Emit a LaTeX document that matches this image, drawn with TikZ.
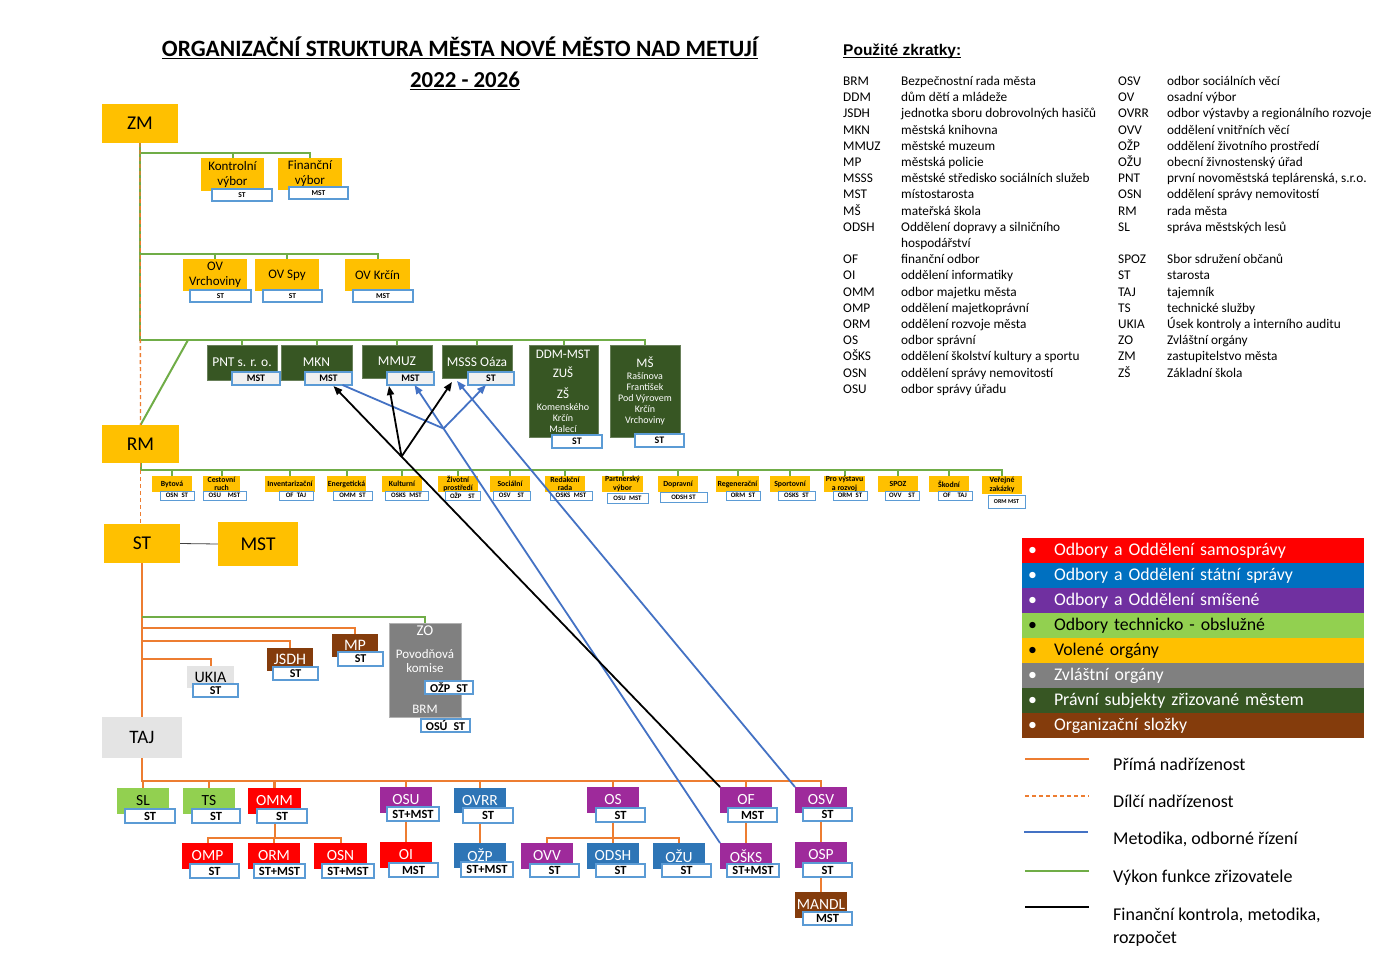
\documentclass[tikz,border=0pt]{standalone}
\usepackage{fontspec}
\setmainfont{Carlito}
\newfontfamily\arialfont{Liberation Sans}
\usetikzlibrary{arrows.meta,calc}
\pgfdeclarelayer{bg}
\pgfdeclarelayer{paper}
\pgfsetlayers{paper,bg,main}

\definecolor{cY}{HTML}{FFC000}
\definecolor{cG}{HTML}{70AD47}
\definecolor{cO}{HTML}{ED7D31}
\definecolor{cBl}{HTML}{4472C4}
\definecolor{cLab}{HTML}{5B9BD5}
\definecolor{cDG}{HTML}{375623}
\definecolor{cRed}{HTML}{FF0000}
\definecolor{cPur}{HTML}{9E2A9B}
\definecolor{cLegPur}{HTML}{7030A0}
\definecolor{cBoxBlue}{HTML}{2E75B6}
\definecolor{cLegBlue}{HTML}{0070C0}
\definecolor{cLGreen}{HTML}{92D050}
\definecolor{cBrown}{HTML}{843C0C}
\definecolor{cGray}{HTML}{808080}
\definecolor{cLGray}{HTML}{E4E4E4}

\newcommand\fsz[1]{\fontsize{#1}{#1}\selectfont}
\newcommand\fszb[2]{\fontsize{#1}{#2}\selectfont}
\newcommand\bx[7]{\node[#6,minimum width={(#4-#2)*1pt},minimum height={(#5-#3)*1pt}] (#1) at ({(#2+#4)/2},{(#3+#5)/2}) {#7};}

\tikzset{
  base/.style={rectangle,inner sep=0pt,outer sep=0pt,align=center},
  ybox/.style={base,fill=cY,font=\fszb{13}{15}},
  bigy/.style={base,fill=cY,font=\fsz{19.5}},
  cbox/.style={base,fill=cY,font=\fszb{7.8}{8.5}\bfseries},
  gbox/.style={base,fill=cDG,draw=cDG!75!white,line width=0.6pt,text=white,font=\fsz{13.5}},
  lab/.style={base,fill=white,draw=cLab,line width=1.2pt,text=black},
  labA/.style={lab,font=\fsz{7.5}\bfseries},
  labB/.style={lab,fill=gray!12,font=\fsz{10}\bfseries},
  labBw/.style={lab,font=\fsz{10}\bfseries},
  labC/.style={lab,font=\fsz{12}\bfseries},
  blab/.style={lab,font=\fsz{12.5}\bfseries},
  clab/.style={lab,line width=1pt,font=\fsz{6.8}\bfseries},
  bbox/.style={base,font=\fsz{15.5},text=white},
  redbox/.style={bbox,fill=cRed},
  purbox/.style={bbox,fill=cPur},
  bluebox/.style={bbox,fill=cBoxBlue},
  brbox/.style={bbox,fill=cBrown},
  lgbox/.style={bbox,fill=cLGreen,text=black},
  oline/.style={draw=cO,line width=2.3pt},
  gline/.style={draw=cG,line width=2pt},
  dline/.style={draw=cO,line width=1.3pt,dash pattern=on 4pt off 3pt},
  bline/.style={draw=cBl,line width=1.8pt},
  kline/.style={draw=black,line width=1.8pt},
  arr/.style={-{Triangle[length=9pt,width=7pt]}},
  legbar/.style={base,anchor=west,minimum width=342pt,minimum height=25pt,text width=330pt,align=left,inner xsep=6pt,font=\fsz{17.8}},
  legtxt/.style={anchor=base west,inner sep=0pt,font=\fszb{18}{23},align=left},
}

\begin{document}
\begin{tikzpicture}[x=1pt,y=-1pt]
\useasboundingbox (0,0) rectangle (1400,969);
\begin{pgfonlayer}{paper}
\fill[white] (0,0) rectangle (1400,969);
\end{pgfonlayer}

% ---------- title ----------
\node[anchor=base,inner sep=0pt,font=\fsz{23.4}\bfseries] (title) at (460,56) {ORGANIZAČNÍ STRUKTURA MĚSTA NOVÉ MĚSTO NAD METUJÍ};
\draw[line width=1.4pt] ([yshift=-2.5pt]title.base west) -- ([yshift=-2.5pt]title.base east);
\node[anchor=base,inner sep=0pt,font=\fsz{22.8}\bfseries] (years) at (465,87) {2022 - 2026};
\draw[line width=1.4pt] ([yshift=-2.5pt]years.base west) -- ([yshift=-2.5pt]years.base east);

% ---------- abbreviations ----------
\node[anchor=base west,inner sep=0pt,font=\arialfont\fsz{15.5}\bfseries] (zkr) at (843,55) {Použité zkratky:};
\draw[line width=1.2pt] ([yshift=-2.5pt]zkr.base west) -- ([yshift=-2.5pt]zkr.base east);
\node[anchor=north west,inner sep=0pt,font=\fszb{13.3}{16.2}] (abbr1) at (843,74) {%
\begin{tabular}{@{}p{58pt}@{}l@{}}
BRM & Bezpečnostní rada města\\
DDM & dům dětí a mládeže\\
JSDH & jednotka sboru dobrovolných hasičů\\
MKN & městská knihovna\\
MMUZ & městské muzeum\\
MP & městská policie\\
MSSS & městské středisko sociálních služeb\\
MST & místostarosta\\
MŠ & mateřská škola\\
ODSH & Oddělení dopravy a silničního\\
 & hospodářství\\
OF & finanční odbor\\
OI & oddělení informatiky\\
OMM & odbor majetku města\\
OMP & oddělení majetkoprávní\\
ORM & oddělení rozvoje města\\
OS & odbor správní\\
OŠKS & oddělení školství kultury a sportu\\
OSN & oddělení správy nemovitostí\\
OSU & odbor správy úřadu
\end{tabular}};
\node[anchor=north west,inner sep=0pt,font=\fszb{13.3}{16.2}] (abbr2) at (1118,74) {%
\begin{tabular}{@{}p{49pt}@{}l@{}}
OSV & odbor sociálních věcí\\
OV & osadní výbor\\
OVRR & odbor výstavby a regionálního rozvoje\\
OVV & oddělení vnitřních věcí\\
OŽP & oddělení životního prostředí\\
OŽU & obecní živnostenský úřad\\
PNT & první novoměstská teplárenská, s.r.o.\\
OSN & oddělení správy nemovitostí\\
RM & rada města\\
SL & správa městských lesů\\
 & \\
SPOZ & Sbor sdružení občanů\\
ST & starosta\\
TAJ & tajemník\\
TS & technické služby\\
UKIA & Úsek kontroly a interního auditu\\
ZO & Zvláštní orgány\\
ZM & zastupitelstvo města\\
ZŠ & Základní škola
\end{tabular}};

% ---------- ZM part ----------
\bx{zm}{102}{104}{178}{143}{bigy}{ZM}
\bx{kv}{201}{158}{264}{191}{ybox}{Kontrolní\\výbor}
\bx{kvl}{212}{189}{272}{201}{labA}{ST}
\bx{fv}{278}{158}{342}{190}{ybox}{Finanční\\výbor}
\bx{fvl}{289}{187}{348}{199}{labA}{MST}
\bx{ovv1}{183}{259}{247}{291}{ybox}{OV\\Vrchoviny}
\bx{ovv1l}{190}{290}{251}{302}{labA}{ST}
\bx{ovs}{255}{259}{319}{291}{ybox}{OV Spy}
\bx{ovsl}{263}{290}{322}{302}{labA}{ST}
\bx{ovk}{345}{259}{410}{291}{ybox}{OV Krčín}
\bx{ovkl}{353}{290}{413}{302}{labA}{MST}

% ---------- legal subjects ----------
\bx{pnt}{207}{345}{277}{380}{gbox}{PNT s. r. o.}
\bx{pntl}{232}{372}{280}{385}{labB}{MST}
\bx{mkn}{281}{345}{352}{380}{gbox}{MKN}
\bx{mknl}{305}{372}{352}{385}{labB}{MST}
\bx{mmuz}{362}{345}{432}{378}{gbox}{MMUZ}
\bx{mmuzl}{387}{372}{434}{385}{labB}{MST}
\bx{msss}{442}{345}{512}{378}{gbox}{MSSS Oáza}
\bx{msssl}{468}{372}{514}{385}{labB}{ST}
\bx{ddm}{529}{345}{598}{437}{gbox}{}
\node[anchor=base,inner sep=0pt,text=white,font=\fsz{13}] (ddm1) at (563,358) {DDM-MST};
\node[anchor=base,inner sep=0pt,text=white,font=\fsz{13}] (ddm2) at (563,377.5) {ZUŠ};
\node[anchor=base,inner sep=0pt,text=white,font=\fsz{13}] (ddm3) at (563,398) {ZŠ};
\node[anchor=base,inner sep=0pt,text=white,font=\fsz{10}] (ddm4) at (563,410.5) {Komenského};
\node[anchor=base,inner sep=0pt,text=white,font=\fsz{10}] (ddm5) at (563,421) {Krčín};
\node[anchor=base,inner sep=0pt,text=white,font=\fsz{10}] (ddm6) at (563,432) {Malecí};
\bx{ddml}{552}{435}{602}{448}{labBw}{ST}
\bx{ms}{610}{345}{680}{437}{gbox}{}
\node[anchor=base,inner sep=0pt,text=white,font=\fsz{13}] (ms1) at (645,367) {MŠ};
\node[anchor=base,inner sep=0pt,text=white,font=\fsz{10}] (ms2) at (645,379.5) {Rašínova};
\node[anchor=base,inner sep=0pt,text=white,font=\fsz{10}] (ms3) at (645,390.5) {František};
\node[anchor=base,inner sep=0pt,text=white,font=\fsz{10}] (ms4) at (645,401.5) {Pod Výrovem};
\node[anchor=base,inner sep=0pt,text=white,font=\fsz{10}] (ms5) at (645,412.5) {Krčín};
\node[anchor=base,inner sep=0pt,text=white,font=\fsz{10}] (ms6) at (645,423.5) {Vrchoviny};
\bx{msl}{635}{434}{684}{447}{labBw}{ST}

% ---------- RM and commissions ----------
\bx{rm}{102}{425}{179}{463}{bigy}{RM}
\bx{c1}{152}{476}{192}{492}{cbox}{Bytová}
\bx{c1l}{160}{491}{194}{500}{clab}{OSN\enspace ST}
\bx{c2}{203}{476}{240}{492}{cbox}{Cestovní\\ruch}
\bx{c2l}{203}{491}{246}{500}{clab}{OSU\enspace\enspace MST}
\bx{c3}{265}{476}{315}{492}{cbox}{Inventarizační}
\bx{c3l}{279}{491}{313}{500}{clab}{OF\enspace TAJ}
\bx{c4}{327}{476}{366}{492}{cbox}{Energetická}
\bx{c4l}{333}{491}{372}{500}{clab}{OMM\enspace ST}
\bx{c5}{382}{476}{422}{492}{cbox}{Kulturní}
\bx{c5l}{385}{491}{428}{500}{clab}{OSKS\enspace MST}
\bx{c6}{438}{476}{478}{492}{cbox}{Životní\\prostředí}
\bx{c6l}{445}{491}{480}{500}{clab}{OŽP\enspace\enspace ST}
\bx{c7}{490}{476}{530}{492}{cbox}{Sociální}
\bx{c7l}{493}{491}{530}{500}{clab}{OSV\enspace\enspace ST}
\bx{c8}{545}{476}{585}{492}{cbox}{Redakční\\rada}
\bx{c8l}{550}{491}{592}{500}{clab}{OSKS\enspace MST}
\bx{c9}{602}{476}{643}{492}{cbox}{Partnerský\\výbor}
\bx{c9l}{607}{493}{648}{503}{clab}{OSU\enspace MST}
\bx{c10}{658}{476}{698}{492}{cbox}{Dopravní}
\bx{c10l}{660}{492}{707}{502}{clab}{ODSH ST}
\bx{c11}{716}{476}{759}{492}{cbox}{Regenerační}
\bx{c11l}{726}{491}{760}{500}{clab}{ORM\enspace ST}
\bx{c12}{770}{476}{810}{492}{cbox}{Sportovní}
\bx{c12l}{778}{491}{815}{500}{clab}{OSKS\enspace ST}
\bx{c13}{824}{476}{865}{492}{cbox}{Pro výstavu\\a rozvoj}
\bx{c13l}{833}{491}{867}{500}{clab}{ORM\enspace ST}
\bx{c14}{878}{476}{918}{492}{cbox}{SPOZ}
\bx{c14l}{885}{491}{919}{500}{clab}{OVV\enspace\enspace ST}
\bx{c15}{929}{476}{969}{492}{cbox}{Škodní}
\bx{c15l}{938}{491}{972}{500}{clab}{OF\enspace\enspace TAJ}
\bx{c16}{982}{476}{1022}{494}{cbox}{Veřejné\\zakázky}
\bx{c16l}{988}{495}{1025}{508}{clab,font=\fsz{6}\bfseries}{ORM MST}

% ---------- ST part ----------
\bx{st}{104}{524}{180}{563}{bigy}{ST}
\bx{mst}{218}{522}{298}{566}{bigy}{MST}
\bx{ukia}{187}{666}{234}{688}{base,fill=cLGray,font=\fsz{16}}{UKIA}
\bx{ukial}{193}{684}{238}{697}{labC}{ST}
\bx{jsdh}{267}{648}{313}{671}{base,fill=cBrown,text=white,font=\fsz{16}}{JSDH}
\bx{jsdhl}{273}{667}{318}{680}{labC}{ST}
\bx{mp}{332}{634}{378}{657}{base,fill=cBrown,text=white,font=\fsz{16}}{MP}
\bx{mpl}{338}{652}{383}{666}{labC}{ST}
\bx{zo}{389}{623}{461}{717}{base,fill=cGray,draw=gray!60,line width=0.6pt}{}
\node[inner sep=0pt,text=white,font=\fsz{15}] (zo1) at (425,631) {ZO};
\node[inner sep=0pt,text=white,font=\fsz{13}] (zo2) at (425,654) {Povodňová};
\node[inner sep=0pt,text=white,font=\fsz{13}] (zo3) at (425,668) {komise};
\bx{zol1}{425}{681}{473}{694}{labC}{OŽP\enspace ST}
\node[inner sep=0pt,text=white,font=\fsz{13}] (zo4) at (425,709) {BRM};
\bx{zol2}{421}{719}{470}{732}{labC}{OSÚ\enspace ST}
\bx{taj}{102}{717}{182}{758}{base,fill=cLGray,font=\fsz{19}}{TAJ}

% ---------- bottom row ----------
\bx{sl}{117}{788}{169}{814}{lgbox}{SL}
\bx{sll}{125}{809}{175}{823}{blab}{ST}
\bx{ts}{183}{788}{235}{814}{lgbox}{TS}
\bx{tsl}{192}{809}{240}{823}{blab}{ST}
\bx{omm}{248}{788}{301}{814}{redbox}{OMM}
\bx{omml}{257}{809}{307}{823}{blab}{ST}
\bx{omp}{182}{843}{233}{869}{redbox}{OMP}
\bx{ompl}{190}{864}{239}{878}{blab}{ST}
\bx{orm}{248}{843}{300}{869}{redbox}{ORM}
\bx{orml}{254}{864}{305}{878}{blab}{ST+MST}
\bx{osn}{314}{843}{367}{869}{redbox}{OSN}
\bx{osnl}{322}{864}{374}{878}{blab}{ST+MST}
\bx{osu}{380}{787}{432}{813}{purbox}{OSU}
\bx{osul}{387}{807}{439}{821}{blab}{ST+MST}
\bx{oi}{380}{842}{432}{868}{redbox}{OI}
\bx{oil}{389}{863}{438}{877}{blab}{MST}
\bx{ovrr}{454}{788}{506}{813}{bluebox}{OVRR}
\bx{ovrrl}{463}{808}{513}{823}{blab}{ST}
\bx{ozp}{454}{843}{506}{868}{bluebox}{OŽP}
\bx{ozpl}{461}{862}{513}{877}{blab}{ST+MST}
\bx{os}{587}{787}{639}{813}{purbox}{OS}
\bx{osl}{596}{808}{645}{822}{blab}{ST}
\bx{ovv}{521}{843}{573}{869}{purbox}{OVV}
\bx{ovvl}{530}{864}{579}{877}{blab}{ST}
\bx{odsh}{587}{843}{639}{869}{bluebox}{ODSH}
\bx{odshl}{596}{864}{645}{877}{blab}{ST}
\bx{ozu}{653}{843}{705}{869}{bluebox}{OŽU}
\bx{ozul}{662}{864}{711}{877}{blab}{ST}
\bx{of}{720}{787}{772}{813}{purbox}{OF}
\bx{ofl}{728}{808}{777}{822}{blab}{MST}
\bx{osks}{720}{843}{772}{869}{purbox}{OŠKS}
\bx{osksl}{727}{864}{779}{877}{blab}{ST+MST}
\bx{osv}{795}{787}{847}{813}{purbox}{OSV}
\bx{osvl}{803}{808}{852}{821}{blab}{ST}
\bx{osp}{795}{842}{847}{868}{purbox}{OSP}
\bx{ospl}{803}{863}{852}{877}{blab}{ST}
\bx{mandl}{795}{892}{847}{918}{brbox}{MANDL}
\bx{mandll}{803}{912}{852}{925}{blab}{MST}

% ---------- tree lines (behind) ----------
\begin{pgfonlayer}{bg}
\coordinate (j1) at (140,153);
\coordinate (j2) at (140,254);
\coordinate (j3) at (140,340);
\coordinate (jd) at (188,340);
\draw[gline] (zm.south) -- (j3) -| (ms.north);
\foreach \n in {pnt,mkn,mmuz,msss,ddm} \draw[gline] (j3) -| (\n.north);
\draw[gline] (j1) -| (fv.north);
\draw[gline] (j1) -| (kv.north);
\draw[gline] (j2) -| (ovk.north);
\draw[gline] (j2) -| (ovs.north);
\draw[gline] (j2) -| (ovv1.north);
\draw[gline] (jd) -- (rm.north);
\coordinate (jc) at (140.5,470);
\draw[gline] (rm.south) -- (jc) -| (c16.north);
\foreach \n in {c1,c2,c3,c4,c5,c6,c7,c8,c9,c10,c11,c12,c13,c14,c15} \draw[gline] (jc) -| (\n.north);
\draw[dline] (zm.south) -- (rm.north);
\draw[dline] (rm.south) -- (rm.south |- st.north);
\draw[line width=0.8pt,draw=black!75] (st.east) -- (mst.west);
\draw[oline] (st.south) -- (taj.north);
\coordinate (js1) at (142,617);
\coordinate (js2) at (142,628);
\coordinate (js3) at (142,641);
\coordinate (js4) at (142,659);
\draw[gline] (js1) -| (zo.north);
\draw[oline,line width=2pt] (js2) -| (mp.north);
\draw[oline,line width=2pt] (js3) -| (jsdh.north);
\draw[oline,line width=2pt] (js4) -| (ukia.north);
\coordinate (jb) at (142,781);
\draw[oline] (taj.south) -- (jb) -| (osv.north);
\foreach \n in {sl,ts,omm,osu,ovrr,os,of} \draw[oline] (jb) -| (\n.north);
\coordinate (jomm) at (274.5,838);
\draw[oline,line width=2pt] (omm.south) -- (jomm);
\foreach \n in {omp,orm,osn} \draw[oline,line width=2pt] (jomm) -| (\n.north);
\draw[oline,line width=2pt] (osu.south) -- (oi.north);
\draw[oline,line width=2pt] (ovrr.south) -- (ozp.north);
\coordinate (jos) at (613,838);
\draw[oline,line width=2pt] (os.south) -- (jos);
\foreach \n in {ovv,odsh,ozu} \draw[oline,line width=2pt] (jos) -| (\n.north);
\draw[oline,line width=2pt] (of.south) -- (osks.north);
\draw[oline,line width=2pt] (osv.south) -- (osp.north);
\draw[oline,line width=2pt] (osp.south) -- (mandl.north);
\end{pgfonlayer}

% ---------- methodology (blue) and financial control (black) ----------
\coordinate (mmuzT) at ([xshift=4pt]mmuzl.south);
\draw[bline,arr] (osks.north west) -- (mmuzT);
\coordinate (bj) at ($(osks.north west)!0.905!(mmuzT)$);
\draw[bline] (bj) -- ([xshift=14pt]mknl.south);
\draw[bline,arr] (bj) -- ([xshift=-5pt]msssl.south);
\draw[bline,arr] (osv.north west) -- ([xshift=15pt,yshift=-3pt]msss.south west);
\coordinate (mknT) at ([xshift=5pt,yshift=-1pt]mknl.south);
\draw[kline,arr] (of.north west) -- (mknT);
\coordinate (kj) at ($(of.north west)!0.824!(mknT)$);
\draw[kline,arr] (kj) -- ([xshift=2pt,yshift=-1pt]mmuzl.south west);
\draw[kline,arr] (kj) -- ([xshift=10pt,yshift=-4pt]msss.south west);

% ---------- legend ----------
\node[legbar,fill=cRed,text=white] (leg1) at (1022,550.5) {\makebox[26pt][l]{•}Odbory a Oddělení samosprávy};
\node[legbar,fill=cLegBlue,text=white] (leg2) at (1022,575.5) {\makebox[26pt][l]{•}Odbory a Oddělení státní správy};
\node[legbar,fill=cLegPur,text=white] (leg3) at (1022,600.5) {\makebox[26pt][l]{•}Odbory a Oddělení smíšené};
\node[legbar,fill=cLGreen,text=black] (leg4) at (1022,625.5) {\makebox[26pt][l]{•}Odbory technicko - obslužné};
\node[legbar,fill=cY,text=black] (leg5) at (1022,650.5) {\makebox[26pt][l]{•}Volené orgány};
\node[legbar,fill=cGray,text=white] (leg6) at (1022,675.5) {\makebox[26pt][l]{•}Zvláštní orgány};
\node[legbar,fill=cDG,text=white] (leg7) at (1022,700.5) {\makebox[26pt][l]{•}Právní subjekty zřizované městem};
\node[legbar,fill=cBrown,text=white] (leg8) at (1022,725.5) {\makebox[26pt][l]{•}Organizační složky};

\draw[oline,line width=2.2pt] (1025,759) -- (1089,759);
\node[legtxt] (lt1) at (1113,770) {Přímá nadřízenost};
\draw[dline] (1025,796) -- (1089,796);
\node[legtxt] (lt2) at (1113,807) {Dílčí nadřízenost};
\draw[bline] (1024,832) -- (1088,832);
\node[legtxt] (lt3) at (1113,844) {Metodika, odborné řízení};
\draw[gline] (1025,871) -- (1089,871);
\node[legtxt] (lt4) at (1113,882) {Výkon funkce zřizovatele};
\draw[kline] (1025,907) -- (1089,907);
\node[legtxt] (lt5) at (1113,943) {Finanční kontrola, metodika,\\rozpočet};
\end{tikzpicture}
\end{document}
